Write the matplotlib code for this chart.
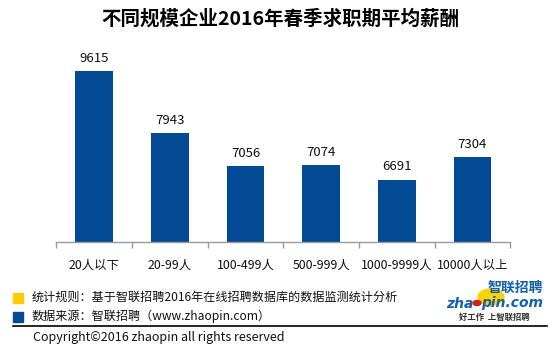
import matplotlib
matplotlib.use('Agg')
import matplotlib.pyplot as plt
from matplotlib.patches import Rectangle, Circle
from matplotlib.lines import Line2D

plt.rcParams['font.family'] = ['Noto Sans CJK SC', 'DejaVu Sans']

# Average expected salary by company size
categories = ['20人以下', '20-99人', '100-499人', '500-999人', '1000-9999人', '10000人以上']
salaries = [9615, 7943, 7056, 7074, 6691, 7304]

title = '不同规模企业2016年春季求职期平均薪酬'
note_rule = '统计规则：基于智联招聘2016年在线招聘数据库的数据监测统计分析'
note_source = '数据来源：智联招聘（www.zhaopin.com）'
copyright_text = 'Copyright©2016 zhaopin all rights reserved'

bar_color = '#024A94'
note_yellow = '#FFCC00'
logo_blue = '#1460B0'

W, H = 560, 348


def fx(px):
    return px / W


def fy(py):
    return 1 - py / H


fig = plt.figure(figsize=(5.6, 3.48), dpi=100)
ax = fig.add_axes([0.1005, 0.3037, 0.8107, 0.64])

x = list(range(len(categories)))
ax.bar(x, salaries, width=0.5, color=bar_color, zorder=2)
for xi, v in zip(x, salaries):
    ax.annotate(str(v), (xi, v), xytext=(0, 4.5), textcoords='offset points',
                ha='center', va='bottom', fontsize=9.5, color='#111111')

ax.set_xlim(-0.5, len(categories) - 0.5)
ax.set_ylim(5000, 11000)
ax.set_yticks([])
for s in ['top', 'right', 'left']:
    ax.spines[s].set_visible(False)
ax.spines['bottom'].set_color('#9a9a9a')
ax.spines['bottom'].set_linewidth(1.0)

# ticks sit on the category boundaries, labels in the middle
ax.set_xticks([i - 0.5 for i in range(len(categories) + 1)])
ax.set_xticklabels([])
ax.tick_params(axis='x', length=4, color='#9a9a9a', width=1.0, direction='out')
ax.set_xticks(x, minor=True)
ax.set_xticklabels(categories, minor=True, fontsize=8.9, color='#111111')
ax.tick_params(axis='x', which='minor', length=0, pad=12)

fig.text(0.5, fy(19), title, ha='center', va='center', fontsize=14,
         fontweight='bold', color='black')

# notes block
fig.patches.append(Rectangle((fx(12.5), fy(302.7)), 10.7 / W, 10 / H,
                             transform=fig.transFigure, color=note_yellow))
fig.patches.append(Rectangle((fx(12.5), fy(321.7)), 10.7 / W, 10 / H,
                             transform=fig.transFigure, color=bar_color))
fig.text(fx(32), fy(297.5), note_rule, ha='left', va='center', fontsize=8.7, color='#111111')
fig.text(fx(32), fy(316), note_source, ha='left', va='center', fontsize=8.7, color='#111111')
fig.lines.append(Line2D([fx(13), fx(547)], [fy(326), fy(326)],
                        transform=fig.transFigure, color='black', lw=1.2))
fig.text(fx(33), fy(337.5), copyright_text, ha='left', va='center', fontsize=9, color='#111111')

# zhaopin logo
fig.patches.append(Circle((fx(491), fy(297)), 13 / W, transform=fig.transFigure,
                          color='#FFD200', zorder=1))
fig.text(fx(543), fy(287.5), '智联招聘', ha='right', va='center', fontsize=10,
         fontweight='bold', style='italic', color=logo_blue, zorder=3)
fig.text(fx(473), fy(303.5), 'zha', ha='right', va='center', fontsize=10,
         fontweight='bold', style='italic', color=logo_blue, family='DejaVu Sans', zorder=3)
fig.patches.append(Circle((fx(477), fy(303)), 4 / W, transform=fig.transFigure,
                          color='#D81E1E', zorder=4))
fig.text(fx(481), fy(303.5), 'pin.com', ha='left', va='center', fontsize=10,
         fontweight='bold', style='italic', color=logo_blue, family='DejaVu Sans', zorder=3)
fig.text(fx(494), fy(317.5), '好工作  上智联招聘', ha='center', va='center', fontsize=6,
         fontweight='bold', style='italic', color='#333333')

fig.savefig('out.png', dpi=100)
